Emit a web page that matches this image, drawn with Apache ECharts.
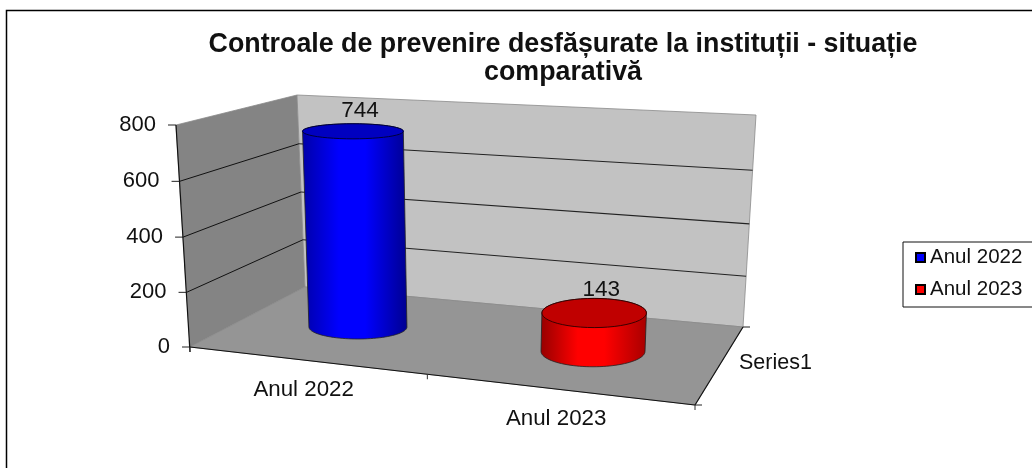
<!DOCTYPE html>
<html>
<head>
<meta charset="utf-8">
<style>html,body{margin:0;padding:0;background:#fff}#c{width:1032px;height:468px}</style>
<script src="https://cdn.jsdelivr.net/npm/echarts@6/dist/echarts.min.js"></script>
</head>
<body>
<div id="c"></div>
<script>
const chartTitle = 'Controale de prevenire desfășurate la instituții - situație\ncomparativă';
const categories = ['Anul 2022', 'Anul 2023'];
const seriesValues = [744, 143];
const depthLabel = 'Series1';
const tickValues = [0, 200, 400, 600, 800];
const bodyColors = [
  ['#0000a8', '#0000ff', '#000090', '#0000c0', '#00003a'],
  ['#960000', '#ff0000', '#a80000', '#c00000', '#3a0000']
];
const legendColors = ['#0000ff', '#ff0000'];

// Oblique frame of the 3D box, used as the projection for every mark
const FONT = '"Liberation Sans", Arial, sans-serif';
const box = {
  fl: [190, 347], fr: [695, 405], bl: [305, 287], br: [743, 327],
  tfl: [176, 125], tfr: [708, 165], tbl: [297, 95], tbr: [756, 115]
};
const gridRect = { left: 190, top: 125, width: 505, height: 221.5 };
const catShift = 0.025, cylShift = 0.005, cylDepth = 0.52;

function mix(a, b, k) { return [a[0] + (b[0] - a[0]) * k, a[1] + (b[1] - a[1]) * k]; }
function project(u, d, t) {
  const lo = mix(mix(box.fl, box.fr, u), mix(box.bl, box.br, u), d);
  const hi = mix(mix(box.tfl, box.tfr, u), mix(box.tbl, box.tbr, u), d);
  const k = 0.02 + 0.035 * u * d;
  return mix(lo, hi, t - k * t * (1 - t));
}
function fractionOf(api, value) {
  const y0 = api.coord([0, 0])[1], yMax = api.coord([0, tickValues[tickValues.length - 1]])[1];
  return (y0 - api.coord([0, value])[1]) / (y0 - yMax);
}
function uOf(api, catIndex) {
  return (api.coord([catIndex, 0])[0] - gridRect.left) / gridRect.width - catShift;
}
function line(a, b, color, width) {
  return { type: 'line', silent: true, shape: { x1: a[0], y1: a[1], x2: b[0], y2: b[1] },
    style: { stroke: color, lineWidth: width, fill: null } };
}
function label(text, x, y, align, size) {
  return { type: 'text', silent: true,
    style: { text: text, x: x, y: y, textAlign: align, textVerticalAlign: 'middle',
      font: size + 'px ' + FONT, fill: '#111' } };
}
function poly(a, fill) {
  return { type: 'polygon', silent: true, shape: { points: a }, style: { fill: fill, stroke: '#8a8a8a', lineWidth: 0.8 } };
}
function renderFrame(params, api) {
  const ch = [];
  ch.push(poly([box.tfl, box.tbl, box.bl, box.fl], '#848484'));
  ch.push(poly([box.tbl, box.tbr, box.br, box.bl], '#c2c2c2'));
  ch.push(poly([box.fl, box.fr, box.br, box.bl], '#959595'));
  tickValues.forEach(function (v) {
    const t = fractionOf(api, v);
    const a = project(0, 0, t), b = project(0, 1, t), c = project(1, 1, t);
    if (v > 0 && v < tickValues[tickValues.length - 1]) {
      ch.push(line(a, b, '#111', 1));
      ch.push(line(b, c, '#222', 1.1));
    }
    ch.push(line([a[0] - 8, a[1]], a, '#222', 1));
    ch.push(label(String(v), a[0] - 20, a[1], 'right', 22));
  });
  ch.push(line(box.tfl, [box.fl[0], box.fl[1] + 5], '#111', 1.2));
  ch.push(line(box.fl, box.fr, '#111', 1.2));
  ch.push(line(box.fr, box.br, '#111', 1.2));
  [0, 0.47, 1].forEach(function (u) {
    const p = mix(box.fl, box.fr, u);
    ch.push(line(p, [p[0], p[1] + 5], '#333', 1));
  });
  ch.push(line(box.fr, [box.fr[0] + 7, box.fr[1]], '#222', 1));
  ch.push(line(box.br, [box.br[0] + 7, box.br[1]], '#222', 1));
  categories.forEach(function (name, i) {
    const p = mix(box.fl, box.fr, uOf(api, i));
    ch.push(label(name, p[0], p[1] + 29.5, 'center', 22.3));
  });
  ch.push(label(depthLabel, 739, 363, 'left', 21.5));
  return { type: 'group', children: ch };
}
function ellipsePts(cx, cy, rx, ry, from, to) {
  const pts = [], n = 48;
  for (let i = 0; i <= n; i++) {
    const a = from + (to - from) * i / n;
    pts.push([cx + rx * Math.cos(a), cy + ry * Math.sin(a)]);
  }
  return pts;
}
function ryAt(y, u) { return 7.5 + 0.0228 * (y - 129.5) + 5.8 * (u - 0.23); }
function renderCylinder(seriesIndex) {
  return function (params, api) {
    const i = api.value(0), v = api.value(1);
    const u = uOf(api, i) + cylShift, t = fractionOf(api, v);
    const b = project(u, cylDepth, 0), a = project(u, cylDepth, t);
    const ryB = ryAt(b[1], u), ryT = ryAt(a[1], u);
    const rxB = 49 + 6 * (u - 0.23), rxT = rxB + 1.5 * t;
    const c = bodyColors[seriesIndex];
    const body = ellipsePts(a[0], a[1], rxT, ryT, Math.PI, 2 * Math.PI)
      .concat(ellipsePts(b[0], b[1], rxB, ryB, 0, Math.PI));
    return { type: 'group', children: [
      { type: 'polygon', silent: true, shape: { points: body },
        style: { stroke: '#222', lineWidth: 0.8,
          fill: new echarts.graphic.LinearGradient(0, 0, 1, 0, [
            { offset: 0, color: c[0] }, { offset: 0.35, color: c[1] }, { offset: 0.6, color: c[1] }, { offset: 1, color: c[2] }]) } },
      { type: 'polygon', silent: true, shape: { points: ellipsePts(a[0], a[1], rxT, ryT, 0, 2 * Math.PI) },
        style: { fill: c[3], stroke: c[4], lineWidth: 1 } },
      label(String(v), a[0] + 7, a[1] - ryT - 13 + (u - 0.23) * 8, 'center', 22.5)
    ] };
  };
}
const chart = echarts.init(document.getElementById('c'), null, { renderer: 'canvas' });
chart.setOption({
  animation: false,
  backgroundColor: '#fff',
  title: { text: chartTitle, left: 558, top: 26, textAlign: 'center',
    textStyle: { fontFamily: FONT, fontWeight: 'bold', fontSize: 26.8, lineHeight: 28, color: '#111' } },
  grid: Object.assign({}, gridRect),
  xAxis: { type: 'category', data: categories, show: false },
  yAxis: { type: 'value', min: 0, max: 800, interval: 200, show: false },
  legend: {
    orient: 'vertical', left: 903, top: 242, icon: 'rect', itemWidth: 9, itemHeight: 9, itemGap: 11,
    padding: [5, 40, 7, 12], borderColor: '#111', borderWidth: 1, backgroundColor: '#fff',
    selectedMode: false,
    textStyle: { fontFamily: FONT, fontSize: 20.5, color: '#111' },
    data: categories
  },
  graphic: [{ type: 'polyline', silent: true, shape: { points: [[6.5, 468], [6.5, 10.5], [1032, 10.5]] },
    style: { stroke: '#000', lineWidth: 1.5, fill: null } }],
  series: [
    { type: 'custom', name: 'frame', coordinateSystem: 'cartesian2d', z: 1, silent: true,
      renderItem: renderFrame, data: [[0, 0]] },
    { type: 'custom', name: categories[0], coordinateSystem: 'cartesian2d', z: 2, silent: true,
      itemStyle: { color: legendColors[0], borderColor: '#000', borderWidth: 1.5 },
      renderItem: renderCylinder(0), encode: { x: 0, y: 1 }, data: [[0, seriesValues[0]]] },
    { type: 'custom', name: categories[1], coordinateSystem: 'cartesian2d', z: 2, silent: true,
      itemStyle: { color: legendColors[1], borderColor: '#000', borderWidth: 1.5 },
      renderItem: renderCylinder(1), encode: { x: 0, y: 1 }, data: [[1, seriesValues[1]]] }
  ]
});
</script>
</body>
</html>
